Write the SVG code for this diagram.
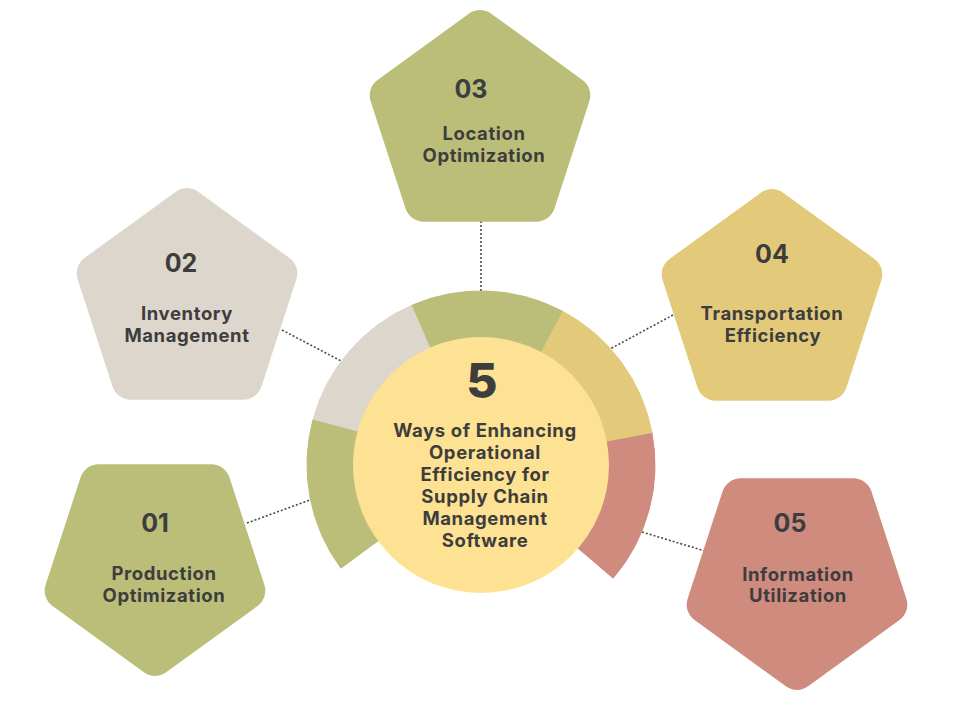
<svg xmlns="http://www.w3.org/2000/svg" width="960" height="720" viewBox="0 0 960 720">
<style>
  .pent { stroke-width: 38; stroke-linejoin: round; }
  .green { fill: #BBBE78; stroke: #BBBE78; }
  .gray { fill: #DDD6CC; stroke: #DDD6CC; }
  .yellow { fill: #E3CA7B; stroke: #E3CA7B; }
  .red { fill: #CF8B7E; stroke: #CF8B7E; }
  .num { font-family: Inter, "Liberation Sans", sans-serif; font-weight: 700; font-size: 25px; fill: #3D3D3D; text-anchor: middle; }
  .lbl { font-family: Inter, "Liberation Sans", sans-serif; font-weight: 700; font-size: 18.5px; letter-spacing: 0.6px; fill: #3D3D3D; text-anchor: middle; }
  .ctr { font-family: Inter, "Liberation Sans", sans-serif; font-weight: 700; font-size: 18.5px; letter-spacing: 0.6px; fill: #3D3D3D; text-anchor: middle; }
  .big { font-family: Inter, "Liberation Sans", sans-serif; font-weight: 800; font-size: 48px; fill: #3D3D3D; text-anchor: middle; }
  .conn { stroke: #4A4A4A; stroke-width: 1.6; stroke-dasharray: 2 2; fill: none; }
</style>
<rect width="960" height="720" fill="#FFFFFF"/>
<g id="connectors">
  <line class="conn" x1="481" y1="221" x2="481" y2="292"/>
  <line class="conn" x1="282" y1="330" x2="343" y2="362"/>
  <line class="conn" x1="673" y1="315" x2="610" y2="349"/>
  <line class="conn" x1="247" y1="523" x2="310" y2="500"/>
  <line class="conn" x1="642" y1="532" x2="705" y2="551"/>
</g>
<g id="center">
  <path class="red" d="M481 465 L613.1 578.2 A174 174 0 0 0 651.9 432.4 Z"/>
  <path class="yellow" d="M481 465 L651.9 432.4 A174 174 0 0 0 562.2 311.1 Z"/>
  <path class="green" d="M481 465 L562.2 311.1 A174 174 0 0 0 411.3 305.5 Z"/>
  <path class="gray" d="M481 465 L411.3 305.5 A174 174 0 0 0 312.9 420 Z"/>
  <path class="green" d="M481 465 L312.9 420 A174 174 0 0 0 340.9 568.2 Z"/>
  <circle cx="481" cy="465" r="128" fill="#FEE294"/>
  <text class="big" x="482" y="398">5</text>
  <text class="ctr" x="485" y="437">Ways of Enhancing</text>
  <text class="ctr" x="485" y="459">Operational</text>
  <text class="ctr" x="485" y="481">Efficiency for</text>
  <text class="ctr" x="485" y="503">Supply Chain</text>
  <text class="ctr" x="485" y="525">Management</text>
  <text class="ctr" x="485" y="547">Software</text>
</g>
<g id="node01">
  <polygon class="pent green" points="155,657 246.3,590.7 211.4,483.3 98.6,483.3 63.7,590.7"/>
  <text class="num" x="155" y="532">01</text>
  <text class="lbl" x="164" y="580">Production</text>
  <text class="lbl" x="164" y="602">Optimization</text>
</g>
<g id="node02">
  <polygon class="pent gray" points="187,207 278.3,273.3 243.4,380.7 130.6,380.7 95.7,273.3"/>
  <text class="num" x="181" y="272">02</text>
  <text class="lbl" x="187" y="320">Inventory</text>
  <text class="lbl" x="187" y="342">Management</text>
</g>
<g id="node03">
  <polygon class="pent green" points="480,29 571.3,95.3 536.4,202.7 423.6,202.7 388.7,95.3"/>
  <text class="num" x="471" y="98">03</text>
  <text class="lbl" x="484" y="140">Location</text>
  <text class="lbl" x="484" y="162">Optimization</text>
</g>
<g id="node04">
  <polygon class="pent yellow" points="772,208 863.3,274.3 828.4,381.7 715.6,381.7 680.7,274.3"/>
  <text class="num" x="772" y="263">04</text>
  <text class="lbl" x="772" y="320">Transportation</text>
  <text class="lbl" x="773" y="342">Efficiency</text>
</g>
<g id="node05">
  <polygon class="pent red" points="797,671 888.3,604.7 853.4,497.3 740.6,497.3 705.7,604.7"/>
  <text class="num" x="790" y="532">05</text>
  <text class="lbl" x="798" y="581">Information</text>
  <text class="lbl" x="798" y="602">Utilization</text>
</g>
</svg>
